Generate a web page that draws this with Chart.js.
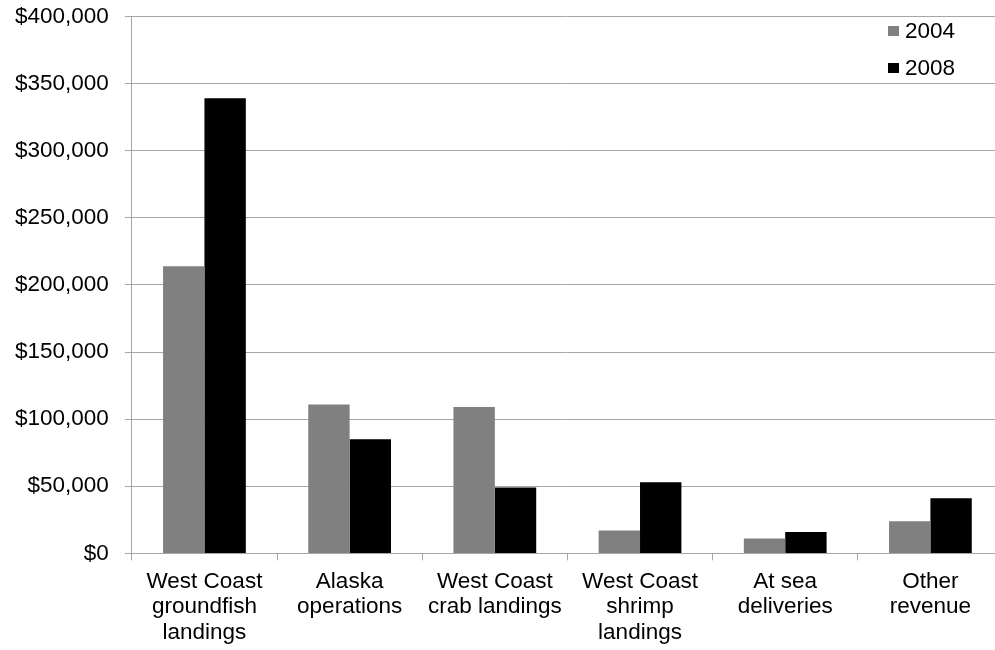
<!DOCTYPE html>
<html>
<head>
<meta charset="utf-8">
<script src="https://cdn.jsdelivr.net/npm/chart.js@4/dist/chart.umd.min.js"></script>
<style>
  html, body { margin: 0; padding: 0; background: #fff; overflow: hidden; }
  #wrap { width: 1003px; height: 650px; }
</style>
</head>
<body>
<div id="wrap"><canvas id="chart"></canvas></div>
<script>
const categories = [
  ["West Coast", "groundfish", "landings"],
  ["Alaska", "operations"],
  ["West Coast", "crab landings"],
  ["West Coast", "shrimp", "landings"],
  ["At sea", "deliveries"],
  ["Other", "revenue"],
];
const values2004 = [214000, 111000, 109000, 17000, 11000, 24000];
const values2008 = [339000, 85000, 49000, 53000, 16000, 41000];
const seriesNames = ["2004", "2008"];
const seriesColors = ["#808080", "#000000"];

const FONT = "'Liberation Sans', Arial, sans-serif";
const GRID = "#a6a6a6";

// legend sits inside the plot, top right
const insideLegend = {
  id: "insideLegend",
  afterDraw(chart) {
    const ctx = chart.ctx;
    const area = chart.chartArea;
    ctx.save();
    ctx.font = "22.5px " + FONT;
    ctx.textBaseline = "middle";
    chart.data.datasets.forEach((ds, i) => {
      const y = area.top + 14.5 + i * 37;
      ctx.fillStyle = ds.backgroundColor;
      ctx.fillRect(area.right - 115, y - 5, 11, 10);
      ctx.fillStyle = "#000";
      ctx.fillText(ds.label, area.right - 98, y + 1);
    });
    ctx.restore();
  },
};

const data = {
  labels: categories,
  datasets: [
    {
      label: seriesNames[0],
      data: values2004,
      backgroundColor: seriesColors[0],
    },
    {
      label: seriesNames[1],
      data: values2008,
      backgroundColor: seriesColors[1],
    },
  ],
};

const config = {
  type: "bar",
  data: data,
  plugins: [insideLegend],
  options: {
    responsive: true,
    maintainAspectRatio: false,
    animation: false,
    layout: { padding: { left: 1, top: 0, bottom: 0, right: 0 } },
    datasets: {
      bar: { barPercentage: 1, categoryPercentage: 0.57, borderWidth: 0 },
    },
    plugins: {
      legend: { display: false },
      tooltip: { enabled: false },
    },
    scales: {
      x: {
        grid: {
          drawOnChartArea: false,
          color: GRID,
          tickLength: 7,
          offset: true,
        },
        border: { color: GRID },
        ticks: {
          color: "#000",
          font: { family: FONT, size: 22.5, lineHeight: 1.15 },
          padding: 8,
          maxRotation: 0,
          autoSkip: false,
        },
        afterFit(scale) {
          scale.height -= 4;
        },
      },
      y: {
        min: 0,
        max: 400000,
        grid: { color: GRID, tickLength: 7 },
        border: { color: GRID },
        ticks: {
          stepSize: 50000,
          color: "#000",
          padding: 16,
          font: { family: FONT, size: 22.5 },
          callback: (v) => "$" + v.toLocaleString("en-US"),
        },
        afterFit(scale) {
          scale.paddingTop = 16.5;
          scale.width -= 2;
        },
      },
    },
  },
};

const chart = new Chart(document.getElementById("chart"), config);
</script>
</body>
</html>
